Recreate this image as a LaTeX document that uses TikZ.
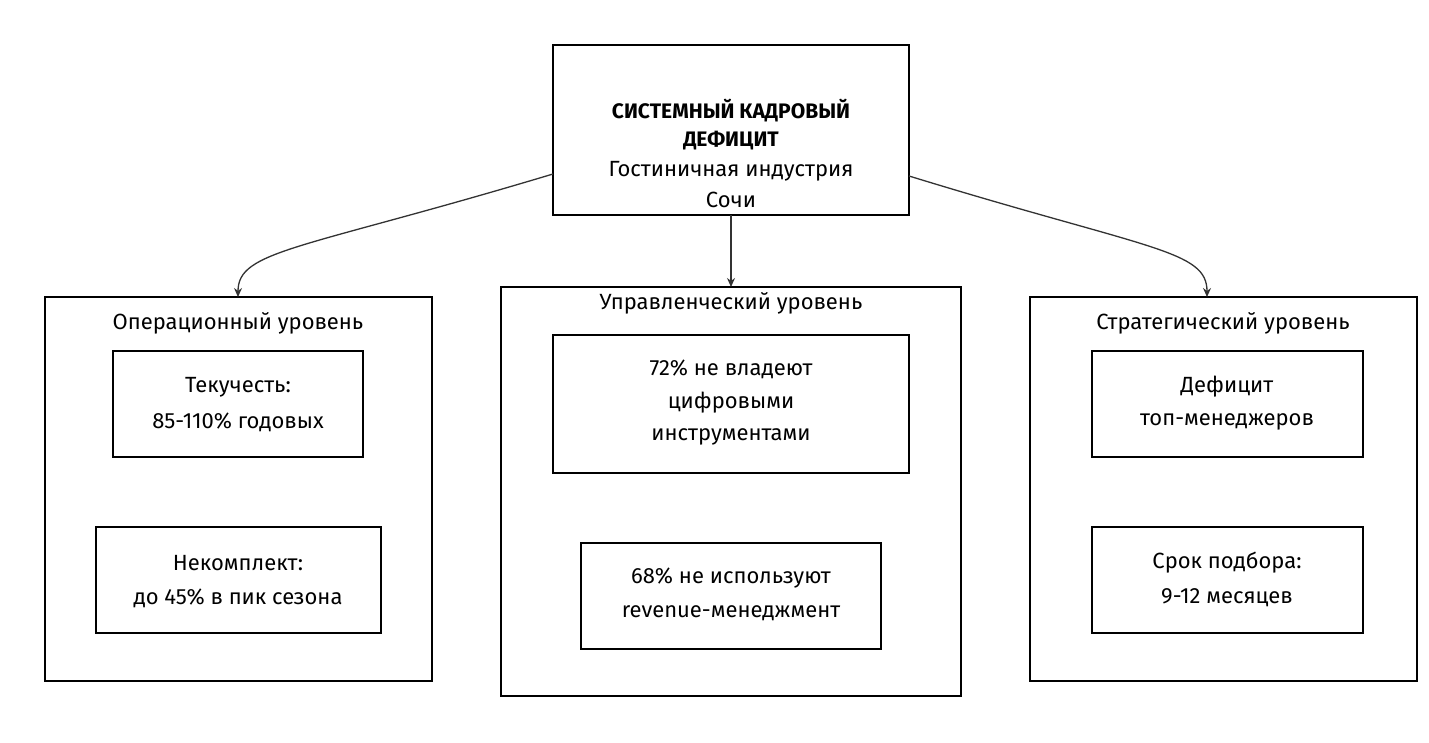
\documentclass[tikz,border=0pt]{standalone}
\usepackage{fontspec}
\setmainfont{Fira Sans}
\usetikzlibrary{arrows.meta}
\begin{document}
\begin{tikzpicture}[x=1pt,y=-1pt,
  grp/.style={draw=black,line width=2.5pt},
  box/.style={draw=black,line width=1.3pt},
  txt/.style={font=\fontsize{22}{26}\selectfont,align=center,inner sep=0pt},
  arr/.style={draw=black!80,line width=1.3pt,-{Stealth[length=9pt,width=8pt]}}]
\useasboundingbox (0,0) rectangle (1429,743);
\draw[grp] (553,45) rectangle (909,215);
\node (top) at (731,130) {};
\node[txt,font=\fontsize{21}{26}\selectfont\bfseries] (t1) at (731,111) {СИСТЕМНЫЙ КАДРОВЫЙ};
\node[txt,font=\fontsize{21}{26}\selectfont\bfseries] (t2) at (731,141) {ДЕФИЦИТ};
\node[txt] (t3) at (731,171) {Гостиничная индустрия};
\node[txt] (t4) at (731,200) {Сочи};
% groups
\draw[grp] (45,297) rectangle (432,681);
\node[txt] (g1) at (238,323) {Операционный уровень};
\draw[box] (113,351) rectangle (363,457);
\node[txt] (a1) at (238,387) {Текучесть:};
\node[txt] (a2) at (238,422) {85-110\% годовых};
\draw[box] (96,527) rectangle (381,633);
\node[txt] (b1) at (238,563) {Некомплект:};
\node[txt] (b2) at (238,598) {до 45\% в пик сезона};
\draw[grp] (501,287) rectangle (961,696);
\node[txt] (g2) at (731,303) {Управленческий уровень};
\draw[box] (553,335) rectangle (909,473);
\node[txt] (c1) at (731,369) {72\% не владеют};
\node[txt] (c2) at (731,403) {цифровыми};
\node[txt] (c3) at (731,437) {инструментами};
\draw[box] (581,543) rectangle (881,649);
\node[txt] (d1) at (731,578) {68\% не используют};
\node[txt] (d2) at (731,613) {revenue-менеджмент};
\draw[grp] (1030,297) rectangle (1417,681);
\node[txt] (g3) at (1223,323) {Стратегический уровень};
\draw[box] (1092,351) rectangle (1363,457);
\node[txt] (e1) at (1227,387) {Дефицит};
\node[txt] (e2) at (1227,422) {топ-менеджеров};
\draw[box] (1092,527) rectangle (1363,633);
\node[txt] (f1) at (1227,563) {Срок подбора:};
\node[txt] (f2) at (1227,598) {9-12 месяцев};
\coordinate (sl) at (553,174);
\coordinate (sr) at (909,176);
\coordinate (sm) at (731,215);
\coordinate (el) at (238,297);
\coordinate (em) at (731,287);
\coordinate (er) at (1207,297);
\draw[arr] (sl) .. controls (300,250) and (238,250) .. (el);
\draw[arr] (sm) -- (em);
\draw[arr] (sr) .. controls (1150,250) and (1207,250) .. (er);
\end{tikzpicture}
\end{document}
